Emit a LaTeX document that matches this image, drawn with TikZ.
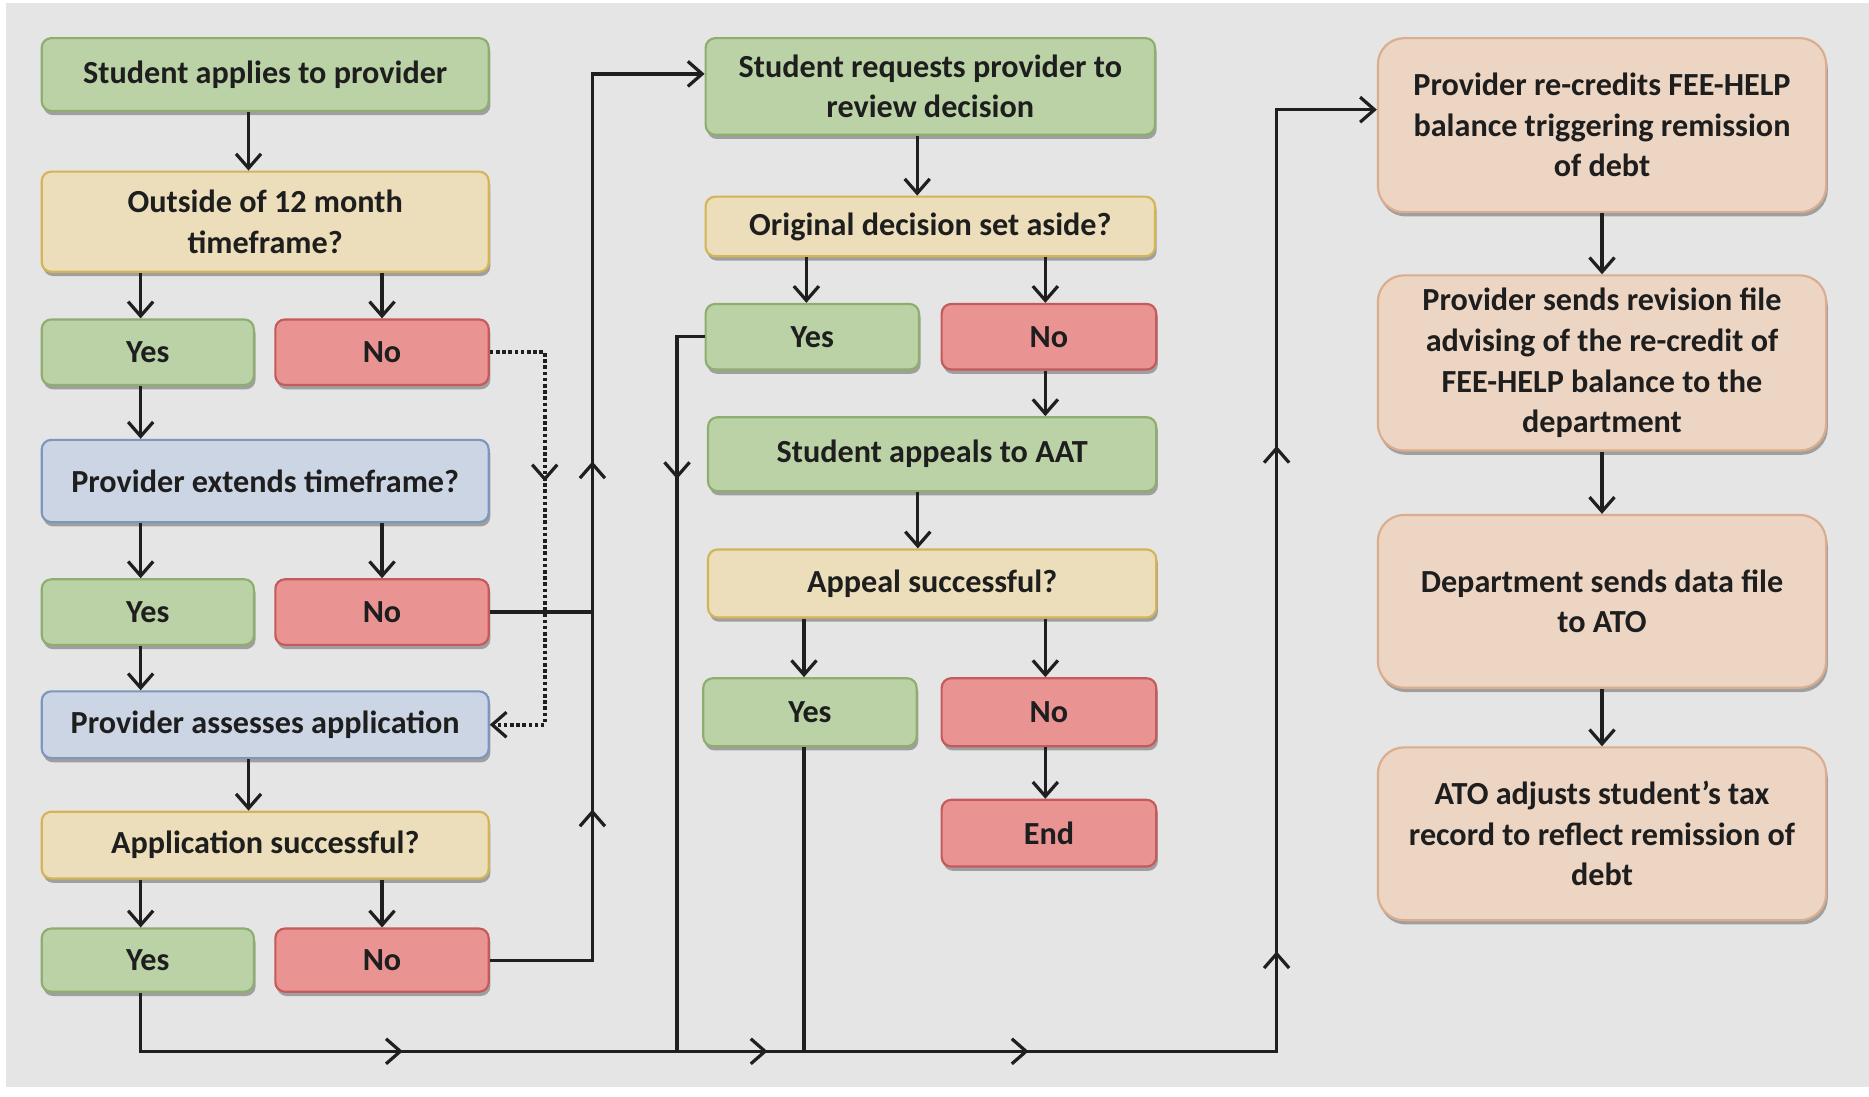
\documentclass[tikz,border=0pt]{standalone}
\usepackage{fontspec}
\setmainfont{Carlito}
\usetikzlibrary{arrows.meta,shadows,decorations.markings,calc}
\definecolor{bgc}{HTML}{E5E5E5}
\definecolor{txt}{HTML}{1E1E1E}
\definecolor{gfill}{HTML}{BBD2A6}\definecolor{gdraw}{HTML}{8DAE6E}
\definecolor{yfill}{HTML}{ECDEBA}\definecolor{ydraw}{HTML}{D3B457}
\definecolor{rfill}{HTML}{EA9393}\definecolor{rdraw}{HTML}{C55A5A}
\definecolor{bfill}{HTML}{CCD5E4}\definecolor{bdraw}{HTML}{7E95BE}
\definecolor{pfill}{HTML}{ECD5C3}\definecolor{pdraw}{HTML}{D9AD8E}
\tikzset{
  box/.style={rounded corners=4pt, draw, line width=0.9pt, inner sep=0pt, align=center,
    font=\fontsize{13.5}{17}\selectfont\bfseries, text=txt,
    drop shadow={shadow xshift=0.7pt, shadow yshift=-1.8pt, opacity=0.3, fill=black}},
  wh/.style 2 args={minimum width=#1*0.5pt, minimum height=#2*0.5pt},
  gbox/.style={box, fill=gfill, draw=gdraw},
  ybox/.style={box, fill=yfill, draw=ydraw},
  rbox/.style={box, fill=rfill, draw=rdraw},
  bbox/.style={box, fill=bfill, draw=bdraw},
  pbox/.style={box, fill=pfill, draw=pdraw, rounded corners=11pt},
  tip/.tip={Straight Barb[length=6pt,width=10.5pt]},
  conn/.style={line width=1.35pt, draw=black!88, line join=miter},
  arr/.style={conn, -tip},
  dotc/.style={line width=1.7pt, draw=black!88, dash pattern=on 1.5pt off 1.1pt},
  mk/.style={postaction={decorate}, decoration={markings, mark=at position #1 with {\arrow[line width=1.35pt]{tip}}}},
  mktwo/.style 2 args={postaction={decorate}, decoration={markings,
     mark=at position #1 with {\arrow[line width=1.35pt]{tip}},
     mark=at position #2 with {\arrow[line width=1.35pt]{tip}}}},
}
\begin{document}
\begin{tikzpicture}[x=0.5pt,y=-0.5pt]
\useasboundingbox (0,0) rectangle (1568,920);
\fill[white] (0,0) rectangle (1568,920);
\fill[bgc] (5,2.5) rectangle (1568,912);

% column 1
\node[gbox, wh={375}{61}] (A1) at (222.5,62.5) {Student applies to provider};
\node[ybox, wh={375}{84}] (A2) at (222.5,186) {Outside of 12 month\\timeframe?};
\node[gbox, wh={178}{55}] (Y1) at (124,295.5) {Yes};
\node[rbox, wh={179}{55}] (N1) at (320.5,295.5) {No};
\node[bbox, wh={375}{69}] (A3) at (222.5,403.5) {Provider extends timeframe?};
\node[gbox, wh={178}{55}] (Y2) at (124,513.5) {Yes};
\node[rbox, wh={179}{55}] (N2) at (320.5,513.5) {No};
\node[bbox, wh={375}{56}] (A4) at (222.5,608) {Provider assesses application};
\node[ybox, wh={375}{56}] (A5) at (222.5,709) {Application successful?};
\node[gbox, wh={178}{53}] (Y3) at (124,805.5) {Yes};
\node[rbox, wh={179}{53}] (N3) at (320.5,805.5) {No};

% column 2
\node[gbox, wh={377}{81}] (B1) at (780.5,72.5) {Student requests provider to\\review decision};
\node[ybox, wh={377}{50}] (B2) at (780.5,190) {Original decision set aside?};
\node[gbox, wh={179}{55}] (BY1) at (681.5,282.5) {Yes};
\node[rbox, wh={180}{55}] (BN1) at (880,282.5) {No};
\node[gbox, wh={376}{62}] (B3) at (782,381) {Student appeals to AAT};
\node[ybox, wh={376}{57}] (B4) at (782,489.5) {Appeal successful?};
\node[gbox, wh={179}{57}] (BY2) at (679.5,597.5) {Yes};
\node[rbox, wh={180}{57}] (BN2) at (880,597.5) {No};
\node[rbox, wh={180}{56}] (BE) at (880,699) {End};

% column 3
\node[pbox, wh={376}{146}] (P1) at (1344,105) {Provider re-credits FEE-HELP\\balance triggering remission\\of debt};
\node[pbox, wh={376}{147}] (P2) at (1344,304.5) {Provider sends revision file\\advising of the re-credit of\\FEE-HELP balance to the\\department};
\node[pbox, wh={376}{145}] (P3) at (1344,504.5) {Department sends data file\\to ATO};
\node[pbox, wh={376}{145}] (P4) at (1344,699.5) {ATO adjusts student's tax\\record to reflect remission of\\debt};

% column 1 arrows
\draw[arr] ([xshift=-7pt]A1.south) -- ([xshift=-7pt]A1.south |- A2.north);
\draw[arr] ([xshift=-3pt]Y1.north |- A2.south) -- ([xshift=-3pt]Y1.north);
\draw[arr] (N1.north |- A2.south) -- (N1.north);
\draw[arr] ([xshift=-3pt]Y1.south) -- ([xshift=-3pt]Y1.south |- A3.north);
\draw[arr] ([xshift=-3pt]Y2.north |- A3.south) -- ([xshift=-3pt]Y2.north);
\draw[arr] (N2.north |- A3.south) -- (N2.north);
\draw[arr] ([xshift=-3pt]Y2.south) -- ([xshift=-3pt]Y2.south |- A4.north);
\draw[arr] ([xshift=-7pt]A4.south) -- ([xshift=-7pt]A4.south |- A5.north);
\draw[arr] ([xshift=-3pt]Y3.north |- A5.south) -- ([xshift=-3pt]Y3.north);
\draw[arr] (N3.north |- A5.south) -- (N3.north);

% dotted loop
\coordinate (d1) at (457,295.5);
\draw[dotc, -{tip[line width=1.35pt]}, mk=77.25pt] (N1.east) -- (d1) -- (d1 |- A4.east) -- (A4.east);

% up line to B1
\coordinate (u1) at (497,62);
\draw[conn] (N2.east) -- (N2.east -| u1);
\draw[arr, mktwo={106.25pt}{252.25pt}] (N3.east) -- (N3.east -| u1) -- (u1) -- (u1 -| B1.west);

% bottom line to P1
\coordinate (b1) at (118,882);
\coordinate (b2) at (1071,92);
\draw[arr, postaction={decorate}, decoration={markings,
   mark=at position 134.5pt with {\arrow[line width=1.35pt]{tip}},
   mark=at position 287.5pt with {\arrow[line width=1.35pt]{tip}},
   mark=at position 397pt with {\arrow[line width=1.35pt]{tip}},
   mark=at position 543pt with {\arrow[line width=1.35pt]{tip}},
   mark=at position 755pt with {\arrow[line width=1.35pt]{tip}}}]
   ([xshift=-3pt]Y3.south) -- (b1) -- (b1 -| b2) -- (b2) -- (b2 -| P1.west);

% column 2 arrows
\draw[arr] ([xshift=-5.5pt]B1.south) -- ([xshift=-5.5pt]B1.south |- B2.north);
\draw[arr] ([xshift=-2.5pt]BY1.north |- B2.south) -- ([xshift=-2.5pt]BY1.north);
\draw[arr] ([xshift=-1.5pt]BN1.north |- B2.south) -- ([xshift=-1.5pt]BN1.north);
\draw[arr] ([xshift=-1.5pt]BN1.south) -- ([xshift=-1.5pt]BN1.south |- B3.north);
\draw[arr] ([xshift=-6pt]B3.south) -- ([xshift=-6pt]B3.south |- B4.north);
\draw[arr] ([xshift=-2.5pt]BY2.north |- B4.south) -- ([xshift=-2.5pt]BY2.north);
\draw[arr] ([xshift=-1.5pt]BN2.north |- B4.south) -- ([xshift=-1.5pt]BN2.north);
\draw[arr] ([xshift=-1.5pt]BN2.south) -- ([xshift=-1.5pt]BE.north);

\coordinate (v1) at (568,882);
\draw[conn, mk=71.25pt] (BY1.west) -- (BY1.west -| v1) -- (v1);
\draw[conn] ([xshift=-2.5pt]BY2.south) -- ([xshift=-2.5pt]BY2.south |- v1);

% column 3 arrows
\draw[arr] (P1.south) -- (P2.north);
\draw[arr] (P2.south) -- (P3.north);
\draw[arr] (P3.south) -- (P4.north);
\end{tikzpicture}
\end{document}
